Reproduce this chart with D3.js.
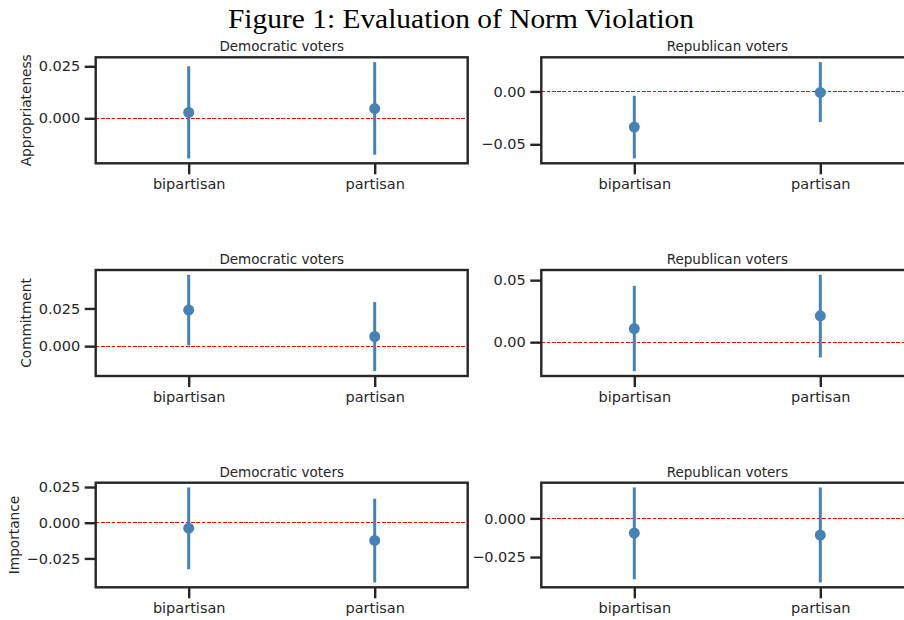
<!DOCTYPE html>
<meta charset="utf-8">
<style>
body { margin: 0; background: #fff; }
svg { display: block; }
.tick text { font-family: "DejaVu Sans", sans-serif; font-size: 14.5px; fill: #262626; }
.tick line { stroke: #262626; stroke-width: 2.4px; }
.frame { fill: none; stroke: #262626; stroke-width: 2.4px; }
.zero { stroke: red; stroke-width: 1; stroke-dasharray: 3.7,1.6; shape-rendering: crispEdges; }
.ci { stroke: #4682b4; stroke-width: 3px; }
.dot { fill: #4682b4; }
.sub { font-family: "DejaVu Sans", sans-serif; font-size: 13.5px; fill: #262626; }
.ylab { font-family: "DejaVu Sans", sans-serif; font-size: 13.7px; fill: #262626; }
</style>
<svg width="904" height="620"></svg>
<script src="https://d3js.org/d3.v7.min.js"></script>
<script>

var categories = ["bipartisan", "partisan"];
var groups = ["Democratic voters", "Republican voters"];
var measures = ["Appropriateness", "Commitment", "Importance"];

// rows = measures, cols = categories
var demMean = [[0.0028, 0.0047], [0.0239, 0.0064], [-0.0038, -0.0124]];
var demLow  = [[-0.0193, -0.0175], [0.0005, -0.0166], [-0.0326, -0.0419]];
var demHigh = [[0.025, 0.027], [0.0473, 0.0292], [0.0247, 0.0168]];
var repMean = [[-0.0337, -0.001], [0.011, 0.0212], [-0.0095, -0.0108]];
var repLow  = [[-0.0634, -0.029], [-0.0234, -0.0123], [-0.0394, -0.0415]];
var repHigh = [[-0.0041, 0.0277], [0.0454, 0.0543], [0.020, 0.020]];

// y tick values per panel [row][col]
var yTicks = [
  [[0, 0.025], [-0.05, 0]],
  [[0, 0.025], [0, 0.05]],
  [[-0.025, 0, 0.025], [-0.025, 0]]
];

var svg = d3.select("svg");

svg.append("text")
    .attr("x", 461).attr("y", 28)
    .attr("text-anchor", "middle")
    .attr("textLength", 466)
    .attr("lengthAdjust", "spacingAndGlyphs")
    .style("font-family", "'Liberation Serif', serif")
    .style("font-size", "27.5px")
    .style("fill", "#000")
    .text("Figure 1: Evaluation of Norm Violation");

var colLeft = [95.7, 541.3],
    plotW = 372,
    rowTop = [57.3, 270, 482.7],
    rowBottom = [163.3, 376, 587.3];

var series = [
  {mean: demMean, low: demLow, high: demHigh},
  {mean: repMean, low: repLow, high: repHigh}
];

measures.forEach(function(measure, r) {
  series.forEach(function(s, c) {
    var x0 = colLeft[c], y0 = rowTop[r], h = rowBottom[r] - rowTop[r];
    var g = svg.append("g").attr("transform", "translate(" + x0 + "," + y0 + ")");

    var rows = categories.map(function(cat, i) {
      return {cat: cat, mean: s.mean[r][i], low: s.low[r][i], high: s.high[r][i]};
    });

    var lo = d3.min(rows, function(d) { return d.low; }),
        hi = d3.max(rows, function(d) { return d.high; }),
        pad = (hi - lo) * 0.05;

    var x = d3.scalePoint().domain(categories).range([0, plotW]).padding(0.5);
    var y = d3.scaleLinear().domain([lo - pad, hi + pad]).range([h, 0]);

    var ticks = yTicks[r][c];
    var coarse = ticks.every(function(t) { return Math.abs(Math.round(t / 0.05) * 0.05 - t) < 1e-9; });
    var fmt = d3.format(coarse ? ".2f" : ".3f");

    // zero reference line
    g.append("line").attr("class", "zero")
        .attr("x1", 0).attr("x2", plotW)
        .attr("y1", y(0)).attr("y2", y(0));

    g.selectAll(".ci").data(rows).enter().append("line")
        .attr("class", "ci")
        .attr("x1", function(d) { return x(d.cat); })
        .attr("x2", function(d) { return x(d.cat); })
        .attr("y1", function(d) { return y(d.low); })
        .attr("y2", function(d) { return y(d.high); });

    g.selectAll(".dot").data(rows).enter().append("circle")
        .attr("class", "dot")
        .attr("cx", function(d) { return x(d.cat); })
        .attr("cy", function(d) { return y(d.mean); })
        .attr("r", 5.5);

    var ya = g.append("g")
        .call(d3.axisLeft(y).tickValues(ticks).tickFormat(fmt).tickSize(11).tickPadding(4.5));
    ya.select(".domain").remove();

    var xa = g.append("g").attr("transform", "translate(0," + h + ")")
        .call(d3.axisBottom(x).tickSize(11).tickPadding(4.5));
    xa.select(".domain").remove();

    g.append("rect").attr("class", "frame")
        .attr("width", plotW).attr("height", h);

    g.append("text").attr("class", "sub")
        .attr("x", plotW / 2).attr("y", -6)
        .attr("text-anchor", "middle")
        .text(groups[c]);

    if (c === 0) {
      var minX = d3.min(ya.selectAll("text").nodes(), function(n) { return n.getBBox().x; });
      g.append("text").attr("class", "ylab")
          .attr("transform", "translate(" + (minX - 8) + "," + (h / 2) + ") rotate(-90)")
          .attr("text-anchor", "middle")
          .text(measure);
    }
  });
});

</script>
